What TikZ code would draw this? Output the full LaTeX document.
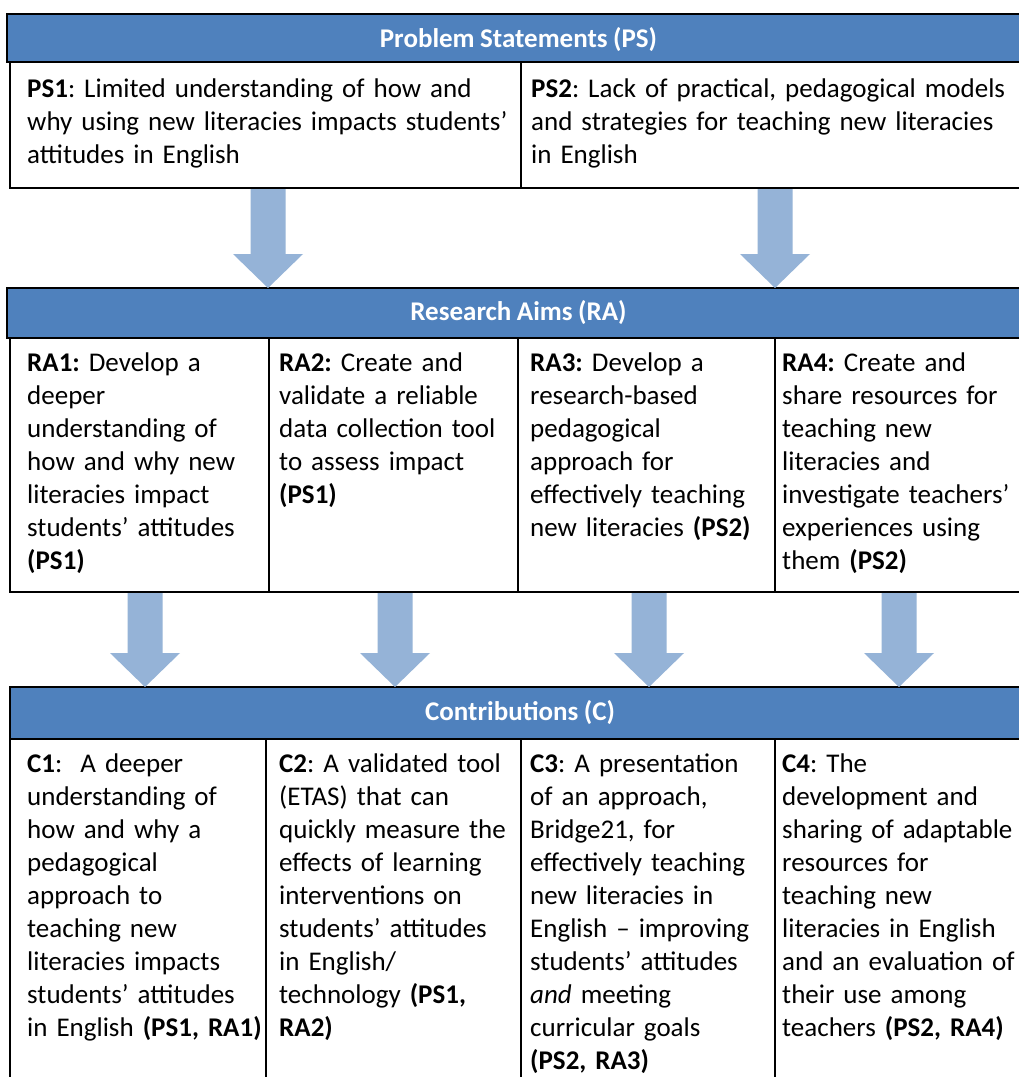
\documentclass[tikz,border=0pt]{standalone}
\usepackage{fontspec}
\setmainfont{Carlito}[WordSpace=0.9]
\frenchspacing
\usetikzlibrary{calc}
\definecolor{headblue}{HTML}{4F81BD}
\definecolor{arrowblue}{HTML}{95B3D7}

% block arrow: x position, start anchor, end anchor
\newcommand\blockarrow[3]{%
  \path (#1,0 |- #2) coordinate (as) (#1,0 |- #3) coordinate (ae);
  \fill[arrowblue] ($(as)+(-17.5,1)$) -- ($(as)+(17.5,1)$) -- ($(ae)+(17.5,-34)$)
    -- ($(ae)+(35,-34)$) -- (ae) -- ($(ae)+(-35,-34)$) -- ($(ae)+(-17.5,-34)$) -- cycle;
}

\begin{document}
\begin{tikzpicture}[x=1pt,y=-1pt,
  headbar/.style={draw=black, line width=2pt, fill=headblue, anchor=north west,
    inner sep=0pt, outer sep=0pt},
  cell/.style={draw=black, line width=2pt, anchor=north west, inner sep=0pt, outer sep=0pt},
  headtext/.style={anchor=base, inner sep=0pt, text=white,
    font=\fontsize{27}{33}\selectfont\bfseries},
  celltext/.style={anchor=base west, inner sep=0pt, text width=300pt, align=left,
    font=\fontsize{27}{33}\selectfont}]
\useasboundingbox (0,0) rectangle (1019,1077);
\clip (0,0) rectangle (1019,1077);
\fill[white] (0,0) rectangle (1019,1077);

% Problem statements
\node[headbar, minimum width=1023pt, minimum height=48pt] (psh) at (7,14) {};
\node[headtext] (psht) at (518.5,47) {Problem Statements (PS)};
\node[cell, minimum width=511pt, minimum height=126pt] (ps1) at (10,62) {};
\node[cell, minimum width=509pt, minimum height=126pt] (ps2) at (521,62) {};
\node[celltext, text width=500pt] (ps1t) at ($(ps1.north west)+(17,35)$)
  {\textbf{PS1}: Limited understanding of how and\\why using new literacies impacts students’\\attitudes in English};
\node[celltext, text width=500pt] (ps2t) at ($(ps2.north west)+(10,35)$)
  {\textbf{PS2}: Lack of practical, pedagogical models\\and strategies for teaching new literacies\\in English};

% Research aims
\node[headbar, minimum width=1023pt, minimum height=50pt] (rah) at (7,288) {};
\node[headtext] (raht) at (518.5,320) {Research Aims (RA)};
\node[cell, minimum width=259pt, minimum height=254pt] (ra1) at (10,338) {};
\node[cell, minimum width=249pt, minimum height=254pt] (ra2) at (269,338) {};
\node[cell, minimum width=257pt, minimum height=254pt] (ra3) at (518,338) {};
\node[cell, minimum width=255pt, minimum height=254pt] (ra4) at (775,338) {};
\node[celltext] (ra1t) at ($(ra1.north west)+(17,33)$)
  {\textbf{RA1:} Develop a\\deeper\\understanding of\\how and why new\\literacies impact\\students’ attitudes\\\textbf{(PS1)}};
\node[celltext] (ra2t) at ($(ra2.north west)+(10,33)$)
  {\textbf{RA2:} Create and\\validate a reliable\\data collection tool\\to assess impact\\\textbf{(PS1)}};
\node[celltext] (ra3t) at ($(ra3.north west)+(12,33)$)
  {\textbf{RA3:} Develop a\\research-based\\pedagogical\\approach for\\effectively teaching\\new literacies \textbf{(PS2)}};
\node[celltext] (ra4t) at ($(ra4.north west)+(7,33)$)
  {\textbf{RA4:} Create and\\share resources for\\teaching new\\literacies and\\investigate teachers’\\experiences using\\them \textbf{(PS2)}};

% Contributions
\node[headbar, minimum width=1020pt, minimum height=52pt] (ch) at (10,687) {};
\node[headtext] (cht) at (520,720) {Contributions (C)};
\node[cell, minimum width=256pt, minimum height=360pt] (c1) at (10,739) {};
\node[cell, minimum width=255pt, minimum height=360pt] (c2) at (266,739) {};
\node[cell, minimum width=254pt, minimum height=360pt] (c3) at (521,739) {};
\node[cell, minimum width=255pt, minimum height=360pt] (c4) at (775,739) {};
\node[celltext] (c1t) at ($(c1.north west)+(17,33)$)
  {\textbf{C1}:\ \ A deeper\\understanding of\\how and why a\\pedagogical\\approach to\\teaching new\\literacies impacts\\students’ attitudes\\in English \textbf{(PS1, RA1)}};
\node[celltext] (c2t) at ($(c2.north west)+(13,33)$)
  {\textbf{C2}: A validated tool\\(ETAS) that can\\quickly measure the\\effects of learning\\interventions on\\students’ attitudes\\in English/\\technology \textbf{(PS1,}\\\textbf{RA2)}};
\node[celltext] (c3t) at ($(c3.north west)+(9,33)$)
  {\textbf{C3}: A presentation\\of an approach,\\Bridge21, for\\effectively teaching\\new literacies in\\English – improving\\students’ attitudes\\\textit{and} meeting\\curricular goals\\\textbf{(PS2, RA3)}};
\node[celltext] (c4t) at ($(c4.north west)+(7,33)$)
  {\textbf{C4}: The\\development and\\sharing of adaptable\\resources for\\teaching new\\literacies in English\\and an evaluation of\\their use among\\teachers \textbf{(PS2, RA4)}};

% flow arrows
\blockarrow{268}{ps1.south}{rah.north}
\blockarrow{775}{ps2.south}{rah.north}
\blockarrow{145}{ra1.south}{ch.north}
\blockarrow{395}{ra2.south}{ch.north}
\blockarrow{649}{ra3.south}{ch.north}
\blockarrow{899}{ra4.south}{ch.north}
\end{tikzpicture}
\end{document}
